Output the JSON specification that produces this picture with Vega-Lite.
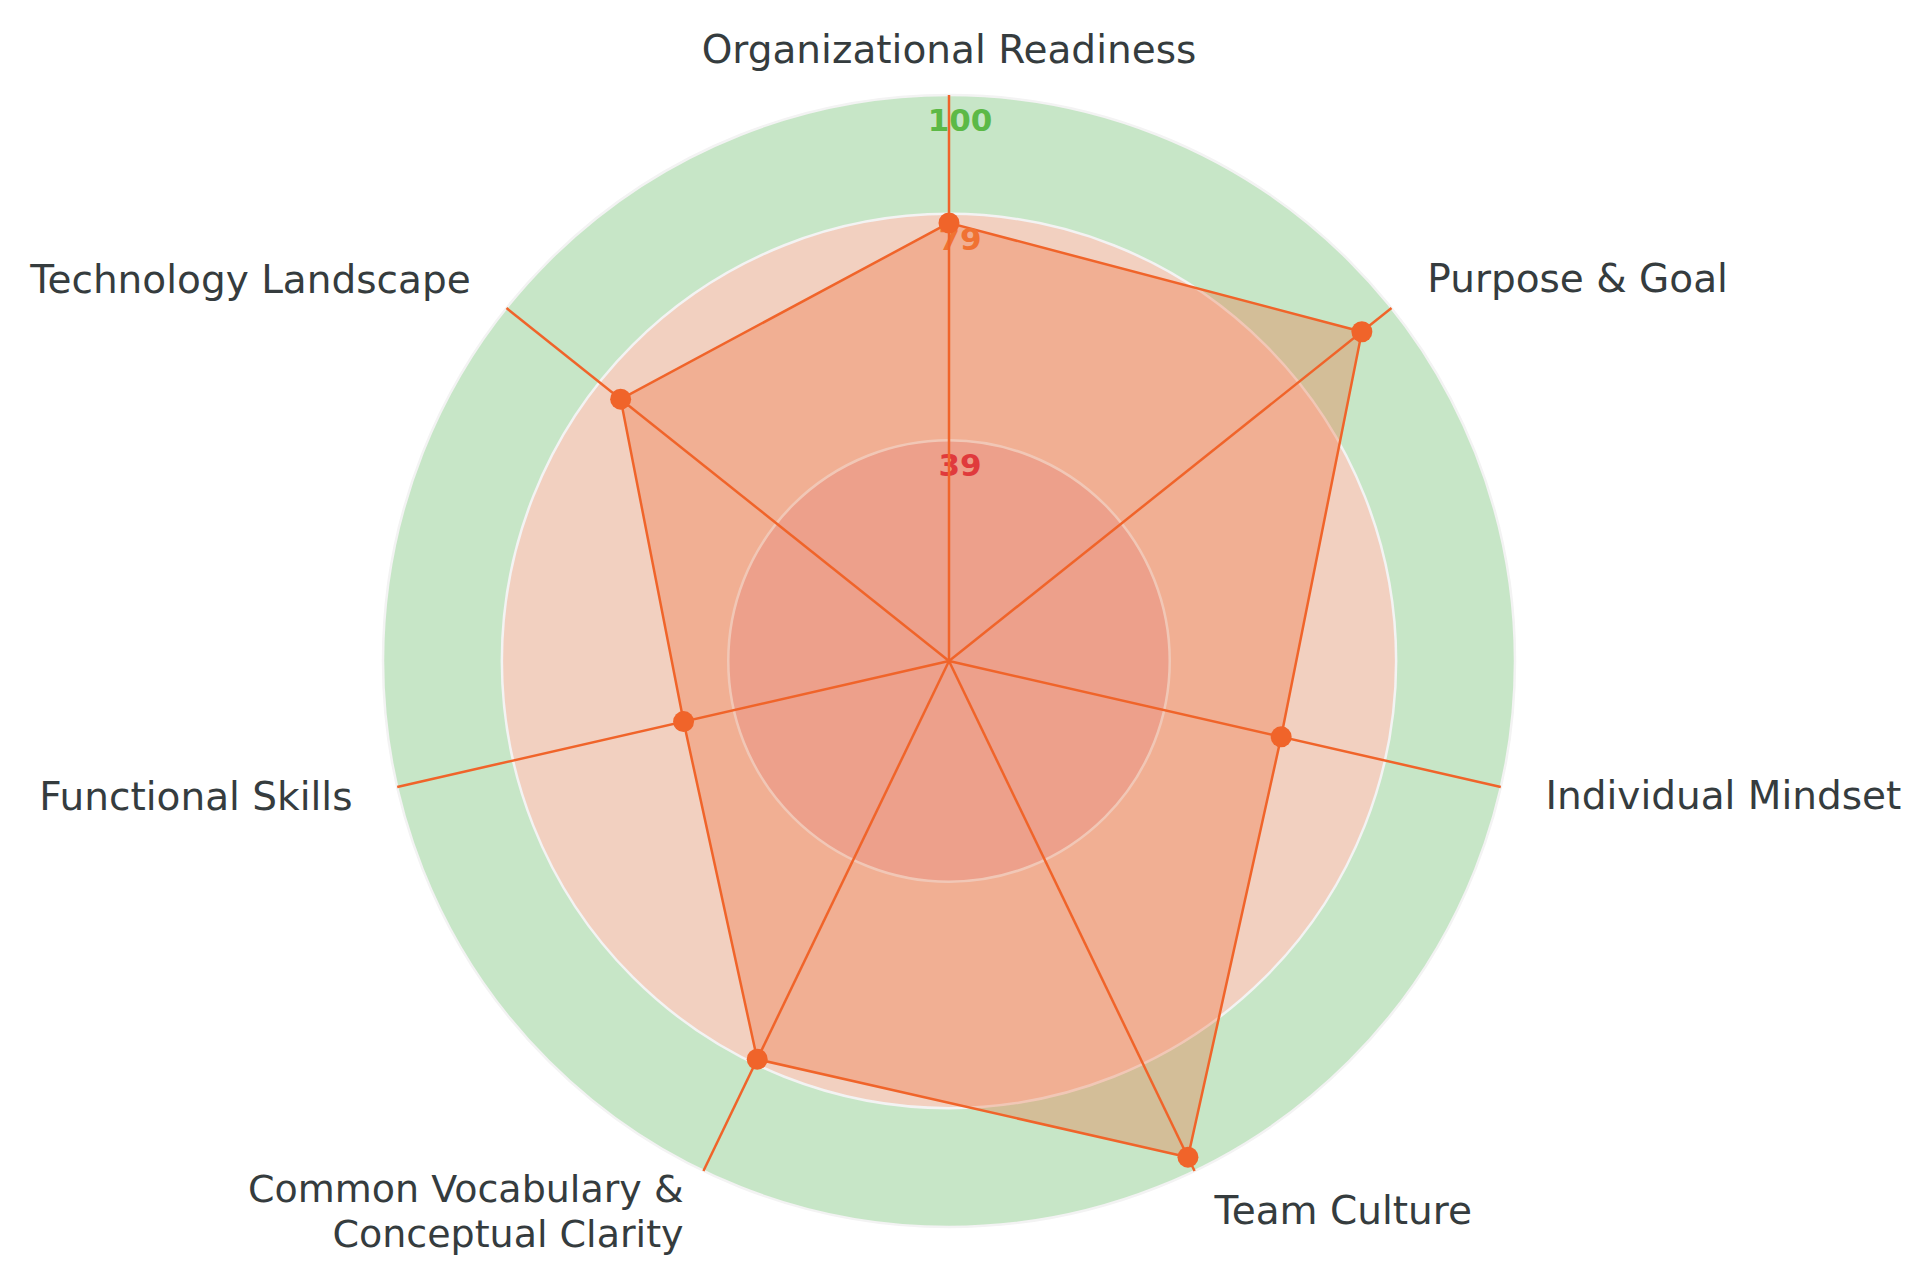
{
  "$schema": "https://vega.github.io/schema/vega-lite/v6.json",
  "width": 1898,
  "height": 1202,
  "padding": {"left": 0, "top": 60, "right": 22, "bottom": 0},
  "autosize": "none",
  "background": "white",
  "config": {"view": {"stroke": null}},
  "data": {"values": [
    {"label": "Organizational Readiness", "order": 0, "value": 77.4},
    {"label": "Purpose & Goal", "order": 1, "value": 93.3},
    {"label": "Individual Mindset", "order": 2, "value": 60.2},
    {"label": "Team Culture", "order": 3, "value": 97.3},
    {"label": ["Common Vocabulary &", "Conceptual Clarity"], "order": 4, "value": 78.1},
    {"label": "Functional Skills", "order": 5, "value": 48.1},
    {"label": "Technology Landscape", "order": 6, "value": 74.2}
  ]},
  "layer": [
    {
      "data": {"values": [{"level": 100}, {"level": 79}, {"level": 39}]},
      "mark": {"type": "arc", "theta": 0, "theta2": 6.2832, "stroke": "#f3f3f3", "strokeWidth": 2.5},
      "encoding": {
        "radius": {"field": "level", "type": "quantitative", "stack": null, "scale": {"type": "linear", "domain": [0, 100], "range": [0, 566], "zero": true}},
        "fill": {"field": "level", "type": "nominal", "scale": {"domain": [100, 79, 39], "range": ["#c7e6c7", "#f2d0c0", "#ecbab5"]}, "legend": null},
        "order": {"field": "level", "type": "quantitative", "sort": "descending"}
      }
    },
    {
      "transform": [
        {"calculate": "datum.order * 2 * PI / 7", "as": "angle"},
        {"calculate": "datum.value * sin(datum.angle)", "as": "px"},
        {"calculate": "datum.value * cos(datum.angle)", "as": "py"}
      ],
      "mark": {"type": "line", "interpolate": "linear-closed", "fill": "#f0642a", "fillOpacity": 0.3, "stroke": "#f0642a", "strokeWidth": 2.5},
      "encoding": {
        "x": {"field": "px", "type": "quantitative", "scale": {"domain": [-167.67, 167.67], "nice": false, "zero": false}, "axis": null},
        "y": {"field": "py", "type": "quantitative", "scale": {"domain": [-106.18, 106.18], "nice": false, "zero": false}, "axis": null},
        "order": {"field": "order", "type": "quantitative"}
      }
    },
    {
      "data": {"values": [{"level": 100}, {"level": 79}, {"level": 39}]},
      "mark": {"type": "text", "font": "DejaVu Sans", "fontSize": 31, "fontWeight": "bold", "align": "center", "baseline": "middle", "dx": 11, "dy": 27, "x": {"expr": "width / 2"}},
      "encoding": {
        "y": {"field": "level", "type": "quantitative", "scale": {"domain": [-106.18, 106.18], "nice": false, "zero": false}, "axis": null},
        "text": {"field": "level", "type": "nominal"},
        "color": {"field": "level", "type": "nominal", "scale": {"domain": [100, 79, 39], "range": ["#5cb946", "#f07232", "#e03a3c"]}, "legend": null}
      }
    },
    {
      "transform": [
        {"calculate": "datum.order * 2 * PI / 7", "as": "angle"},
        {"calculate": "100 * sin(datum.angle)", "as": "ax"},
        {"calculate": "100 * cos(datum.angle)", "as": "ay"}
      ],
      "mark": {"type": "rule", "color": "#f0642a", "strokeWidth": 2.5},
      "encoding": {
        "x": {"field": "ax", "type": "quantitative", "scale": {"domain": [-167.67, 167.67], "nice": false, "zero": false}, "axis": null},
        "y": {"field": "ay", "type": "quantitative", "scale": {"domain": [-106.18, 106.18], "nice": false, "zero": false}, "axis": null},
        "x2": {"datum": 0},
        "y2": {"datum": 0}
      }
    },
    {
      "transform": [
        {"calculate": "datum.order * 2 * PI / 7", "as": "angle"},
        {"calculate": "datum.value * sin(datum.angle)", "as": "px"},
        {"calculate": "datum.value * cos(datum.angle)", "as": "py"}
      ],
      "mark": {"type": "point", "shape": "circle", "filled": true, "size": 440, "color": "#f0642a", "opacity": 1},
      "encoding": {
        "x": {"field": "px", "type": "quantitative", "scale": {"domain": [-167.67, 167.67], "nice": false, "zero": false}, "axis": null},
        "y": {"field": "py", "type": "quantitative", "scale": {"domain": [-106.18, 106.18], "nice": false, "zero": false}, "axis": null}
      }
    },
    {
      "transform": [
        {"filter": "datum.order == 0"},
        {"calculate": "datum.order * 2 * PI / 7", "as": "angle"},
        {"calculate": "108.1 * sin(datum.angle)", "as": "lx"},
        {"calculate": "108.1 * cos(datum.angle)", "as": "ly"}
      ],
      "mark": {"type": "text", "font": "DejaVu Sans", "fontSize": 39, "color": "#353c3e", "align": "center", "baseline": "middle", "dy": 2},
      "encoding": {
        "x": {"field": "lx", "type": "quantitative", "scale": {"domain": [-167.67, 167.67], "nice": false, "zero": false}, "axis": null},
        "y": {"field": "ly", "type": "quantitative", "scale": {"domain": [-106.18, 106.18], "nice": false, "zero": false}, "axis": null},
        "text": {"field": "label", "type": "nominal"}
      }
    },
    {
      "transform": [
        {"filter": "datum.order >= 1 && datum.order <= 3"},
        {"calculate": "datum.order * 2 * PI / 7", "as": "angle"},
        {"calculate": "108.1 * sin(datum.angle)", "as": "lx"},
        {"calculate": "108.1 * cos(datum.angle)", "as": "ly"}
      ],
      "mark": {"type": "text", "font": "DejaVu Sans", "fontSize": 39, "color": "#353c3e", "align": "left", "baseline": "middle", "dy": 0},
      "encoding": {
        "x": {"field": "lx", "type": "quantitative", "scale": {"domain": [-167.67, 167.67], "nice": false, "zero": false}, "axis": null},
        "y": {"field": "ly", "type": "quantitative", "scale": {"domain": [-106.18, 106.18], "nice": false, "zero": false}, "axis": null},
        "text": {"field": "label", "type": "nominal"}
      }
    },
    {
      "transform": [
        {"filter": "datum.order >= 5"},
        {"calculate": "datum.order * 2 * PI / 7", "as": "angle"},
        {"calculate": "108.1 * sin(datum.angle)", "as": "lx"},
        {"calculate": "108.1 * cos(datum.angle)", "as": "ly"}
      ],
      "mark": {"type": "text", "font": "DejaVu Sans", "fontSize": 39, "color": "#353c3e", "align": "right", "baseline": "middle", "dy": 1},
      "encoding": {
        "x": {"field": "lx", "type": "quantitative", "scale": {"domain": [-167.67, 167.67], "nice": false, "zero": false}, "axis": null},
        "y": {"field": "ly", "type": "quantitative", "scale": {"domain": [-106.18, 106.18], "nice": false, "zero": false}, "axis": null},
        "text": {"field": "label", "type": "nominal"}
      }
    },
    {
      "transform": [
        {"filter": "datum.order == 4"},
        {"calculate": "datum.order * 2 * PI / 7", "as": "angle"},
        {"calculate": "108.1 * sin(datum.angle)", "as": "lx"},
        {"calculate": "108.1 * cos(datum.angle)", "as": "ly"}
      ],
      "mark": {"type": "text", "font": "DejaVu Sans", "fontSize": 38, "color": "#353c3e", "align": "right", "baseline": "middle", "lineHeight": 45, "dy": -21},
      "encoding": {
        "x": {"field": "lx", "type": "quantitative", "scale": {"domain": [-167.67, 167.67], "nice": false, "zero": false}, "axis": null},
        "y": {"field": "ly", "type": "quantitative", "scale": {"domain": [-106.18, 106.18], "nice": false, "zero": false}, "axis": null},
        "text": {"field": "label", "type": "nominal"}
      }
    }
  ]
}
